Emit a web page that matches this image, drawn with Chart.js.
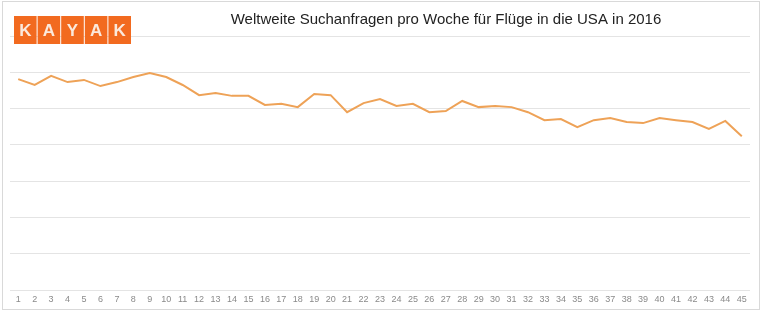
<!DOCTYPE html>
<html>
<head>
<meta charset="utf-8">
<script src="https://cdn.jsdelivr.net/npm/chart.js@4/dist/chart.umd.min.js"></script>
<style>
  html,body{margin:0;padding:0;background:#fff;}
  #wrap{width:762px;height:312px;position:relative;}
</style>
</head>
<body>
<div id="wrap"><canvas id="chart" width="762" height="312"></canvas></div>
<script>
// weeks 1..45
const weeks = Array.from({length:45}, (_,i)=> String(i+1));
// weekly search requests (relative index)
const searches = [
  58.1, 56.5, 59.0, 57.3, 57.9, 56.2, 57.3, 58.7, 59.8, 58.7,
  56.5, 53.7, 54.3, 53.5, 53.5, 51.0, 51.3, 50.4, 54.0, 53.7,
  49.0, 51.5, 52.6, 50.7, 51.3, 49.0, 49.3, 52.1, 50.4, 50.7,
  50.4, 49.0, 46.8, 47.1, 44.9, 46.8, 47.4, 46.3, 46.0, 47.4,
  46.8, 46.3, 44.4, 46.6, 42.4
];
const titleText = 'Weltweite Suchanfragen pro Woche für Flüge in die USA in 2016';
const logoLetters = ['K','A','Y','A','K'];

// frame, logo and title
const decor = {
  id:'decor',
  afterDraw(c){
    const ctx = c.ctx;
    ctx.save();
    ctx.strokeStyle = '#d9d9d9'; ctx.lineWidth = 1;
    ctx.strokeRect(2.5, 1.5, 757, 308);
    // logo
    logoLetters.forEach((l,i)=>{
      const x = 14 + i*23.6;
      ctx.fillStyle = '#f26a1f';
      ctx.fillRect(x, 16, 22.6, 28);
      ctx.fillStyle = '#fbe9dc';
      ctx.font = 'bold 17px "Liberation Sans", Arial, sans-serif';
      ctx.textAlign = 'center'; ctx.textBaseline = 'middle';
      ctx.fillText(l, x + 11.3, 31);
    });
    ctx.fillStyle = '#222';
    ctx.font = '15px "Liberation Sans", Arial, sans-serif';
    ctx.textAlign = 'center'; ctx.textBaseline = 'middle';
    ctx.fillText(titleText, 446, 20);
    ctx.restore();
  }
};

new Chart(document.getElementById('chart'), {
  type:'line',
  data:{labels:weeks, datasets:[{
    data:searches, borderColor:'#eea257', borderWidth:2,
    pointRadius:0, tension:0, fill:false
  }]},
  options:{
    responsive:false, animation:false,
    layout:{padding:{left:10, right:12, top:36, bottom:0}},
    plugins:{legend:{display:false}, tooltip:{enabled:false}},
    scales:{
      x:{
        offset:true,
        grid:{display:false, drawTicks:false}, border:{display:false},
        ticks:{color:'#8a8a8a', font:{size:9, family:'"Liberation Sans", Arial, sans-serif'}, maxRotation:0, autoSkip:false, padding:4},
        afterFit(s){ s.height = 22; }
      },
      y:{
        min:0, max:70,
        ticks:{display:false, stepSize:10},
        grid:{color:'#e4e4e4', drawTicks:false},
        border:{display:false}
      }
    }
  },
  plugins:[decor]
});
</script>
</body>
</html>
